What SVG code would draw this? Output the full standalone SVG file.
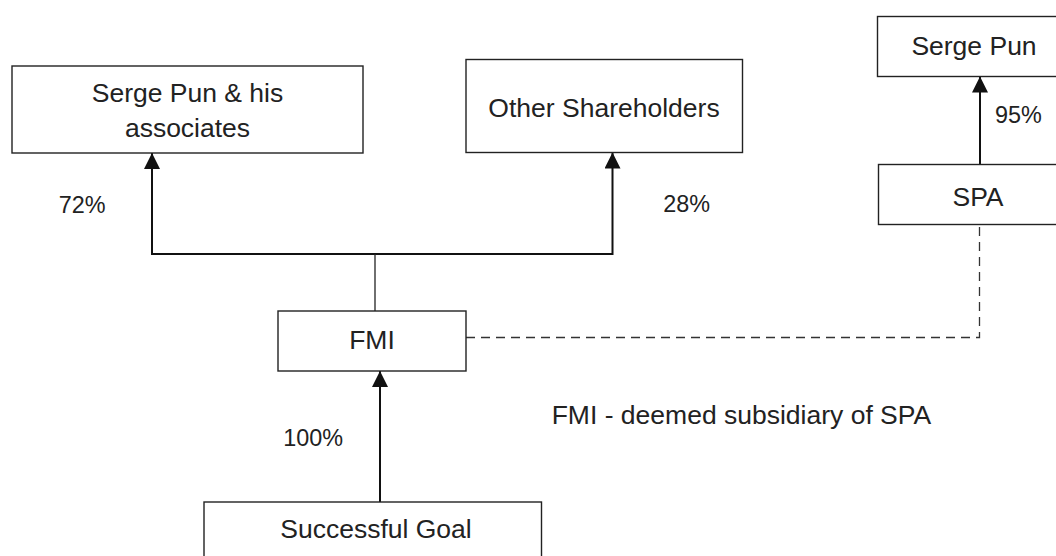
<svg xmlns="http://www.w3.org/2000/svg" width="1056" height="556" viewBox="0 0 1056 556">
<style>
.box{fill:#fff;stroke:#222;stroke-width:1.4}
.t{font-family:"Liberation Sans",Arial,sans-serif;font-size:26.5px;fill:#222}
.p{font-family:"Liberation Sans",Arial,sans-serif;font-size:23.4px;fill:#222}
.c{text-anchor:middle}
.arr{fill:none;stroke:#111;stroke-width:2;marker-end:url(#ah)}
.thin{fill:none;stroke:#222;stroke-width:1.3}
.dash{fill:none;stroke:#333;stroke-width:1.3;stroke-dasharray:9 6}
</style>
<defs>
<marker id="ah" markerUnits="userSpaceOnUse" markerWidth="16" markerHeight="16" viewBox="0 0 15 15" refX="15" refY="7.5" orient="auto">
<path d="M0,0 L15,7.5 L0,15 z" fill="#111"/>
</marker>
</defs>
<rect width="1056" height="556" fill="#fff"/>
<g id="connectors">
<path class="arr" d="M375,254 H152 V153"/>
<path class="arr" d="M375,254 H612.5 V152.5"/>
<path class="thin" d="M375,254 V311"/>
<path class="arr" d="M380,502 V371"/>
<path class="arr" d="M980,164.5 V76.5"/>
<path class="dash" d="M466,337.5 H979.5 V224.5"/>
</g>
<g id="serge-associates">
<rect class="box" x="12" y="66" width="351" height="87"/>
<text class="t c" x="187.5" y="102">Serge Pun &amp; his</text>
<text class="t c" x="187.5" y="137">associates</text>
</g>
<g id="other-shareholders">
<rect class="box" x="466" y="59.5" width="276.5" height="93"/>
<text class="t c" x="604" y="117">Other Shareholders</text>
</g>
<g id="serge-pun">
<rect class="box" x="877.5" y="16.5" width="200" height="60"/>
<text class="t c" x="974" y="55">Serge Pun</text>
</g>
<g id="spa">
<rect class="box" x="878.5" y="164.5" width="200" height="60"/>
<text class="t c" x="978" y="206">SPA</text>
</g>
<g id="fmi">
<rect class="box" x="278" y="311" width="188" height="60"/>
<text class="t c" x="372" y="349">FMI</text>
</g>
<g id="successful-goal">
<rect class="box" x="204" y="502" width="337.5" height="80"/>
<text class="t c" x="376" y="538">Successful Goal</text>
</g>
<g id="labels">
<text class="p" x="58.7" y="212.5">72%</text>
<text class="p" x="663.3" y="211.5">28%</text>
<text class="p" x="283.3" y="446">100%</text>
<text class="p" x="995" y="122.5">95%</text>
<text class="t" x="551.7" y="424">FMI - deemed subsidiary of SPA</text>
</g>
</svg>
